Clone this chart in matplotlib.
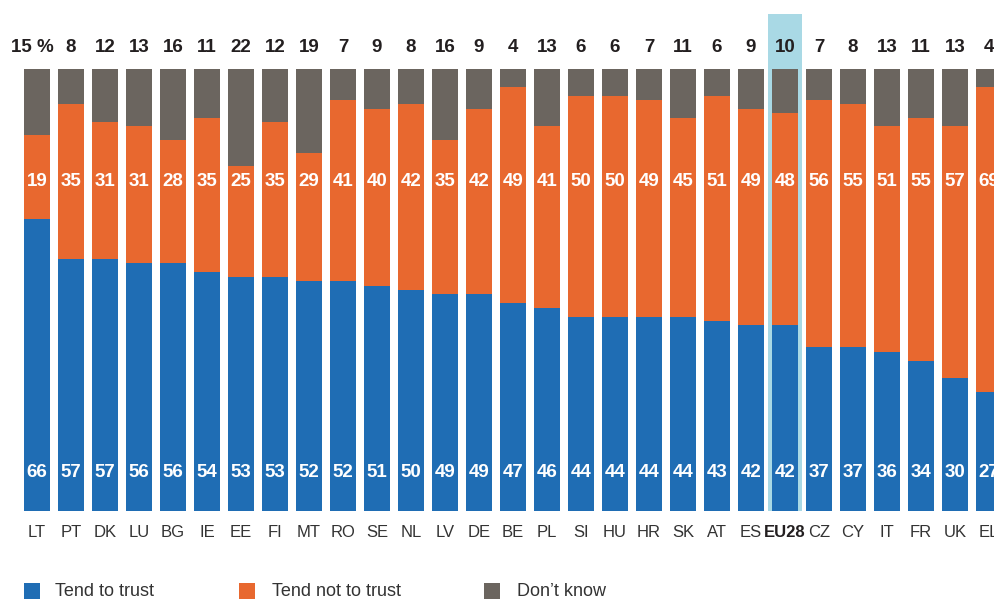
import matplotlib
matplotlib.use("Agg")
import matplotlib.pyplot as plt
from matplotlib.patches import Rectangle

plt.rcParams['font.family'] = ['Liberation Sans', 'DejaVu Sans']

countries = ["LT", "PT", "DK", "LU", "BG", "IE", "EE", "FI", "MT", "RO", "SE", "NL", "LV", "DE",
             "BE", "PL", "SI", "HU", "HR", "SK", "AT", "ES", "EU28", "CZ", "CY", "IT", "FR", "UK", "EL"]
trust = [66, 57, 57, 56, 56, 54, 53, 53, 52, 52, 51, 50, 49, 49,
         47, 46, 44, 44, 44, 44, 43, 42, 42, 37, 37, 36, 34, 30, 27]
not_trust = [19, 35, 31, 31, 28, 35, 25, 35, 29, 41, 40, 42, 35, 42,
             49, 41, 50, 50, 49, 45, 51, 49, 48, 56, 55, 51, 55, 57, 69]
dont_know = [15, 8, 12, 13, 16, 11, 22, 12, 19, 7, 9, 8, 16, 9,
             4, 13, 6, 6, 7, 11, 6, 9, 10, 7, 8, 13, 11, 13, 4]
series_names = ["Tend to trust", "Tend not to trust", "Don\u2019t know"]
highlight = "EU28"

BLUE = "#1f6db4"
ORANGE = "#e8682f"
GRAY = "#6b655f"
HL = "#a9d9e5"
TXT = "#231f20"

W, H = 995, 599
fig = plt.figure(figsize=(W / 100, H / 100), dpi=100)
# axes: bars from y=69 (100%) to y=511 (0%), full width
ax = fig.add_axes([0, (H - 511) / H, 1, 442 / H])
pitch = 34.0
x0 = 37.0
ax.set_xlim(-x0 / pitch, (W - x0) / pitch)
ax.set_ylim(0, 100)
for s in ax.spines.values():
    s.set_visible(False)

xs = list(range(len(countries)))
bw = 26 / pitch

# highlight for EU28
hi = countries.index(highlight)
ppy = 442 / 100.0
top_hl = 100 + (69 - 14) / ppy
ax.add_patch(Rectangle((hi - 17 / pitch, 0), 34 / pitch, top_hl, facecolor=HL,
                       edgecolor="none", clip_on=False, zorder=0))

bottom2 = [t + n for t, n in zip(trust, not_trust)]
ax.bar(xs, trust, width=bw, color=BLUE, zorder=2, label=series_names[0])
ax.bar(xs, not_trust, width=bw, bottom=trust, color=ORANGE, zorder=2, label=series_names[1])
ax.bar(xs, dont_know, width=bw, bottom=bottom2, color=GRAY, zorder=2, label=series_names[2])

y_orange = (511 - 181) / ppy
y_blue = (511 - 472.5) / ppy
y_top = 100 + (69 - 47.5) / ppy
for i, c in enumerate(countries):
    ax.text(i, y_blue, str(trust[i]), ha="center", va="center", color="white",
            fontsize=13.5, fontweight="bold", zorder=3)
    ax.text(i, y_orange, str(not_trust[i]), ha="center", va="center", color="white",
            fontsize=13.5, fontweight="bold", zorder=3)
    lab = str(dont_know[i]) + (" %" if i == 0 else "")
    xoff = -5 / pitch if i == 0 else 0
    ax.text(i + xoff, y_top, lab, ha="center", va="center", color=TXT,
            fontsize=13.5, fontweight="bold", clip_on=False, zorder=3)

ax.set_yticks([])
ax.set_xticks(xs)
ax.set_xticklabels(countries, fontsize=12, color="#333333")
ax.tick_params(axis="x", length=0, pad=10)
for lbl in ax.get_xticklabels():
    if lbl.get_text() == highlight:
        lbl.set_fontweight("bold")
        lbl.set_color(TXT)

# legend drawn manually in figure pixels
leg = [(24, 55, BLUE), (239, 272, ORANGE), (484, 517, GRAY)]
for (sx, tx, col), name in zip(leg, series_names):
    fig.add_artist(Rectangle((sx / W, 0), 16 / W, (H - 583) / H, facecolor=col,
                             edgecolor="none", transform=fig.transFigure))
    fig.text(tx / W, (H - 591) / H, name, ha="left", va="center", fontsize=13, color="#333333")

fig.savefig("out.png", dpi=100, facecolor="white")
